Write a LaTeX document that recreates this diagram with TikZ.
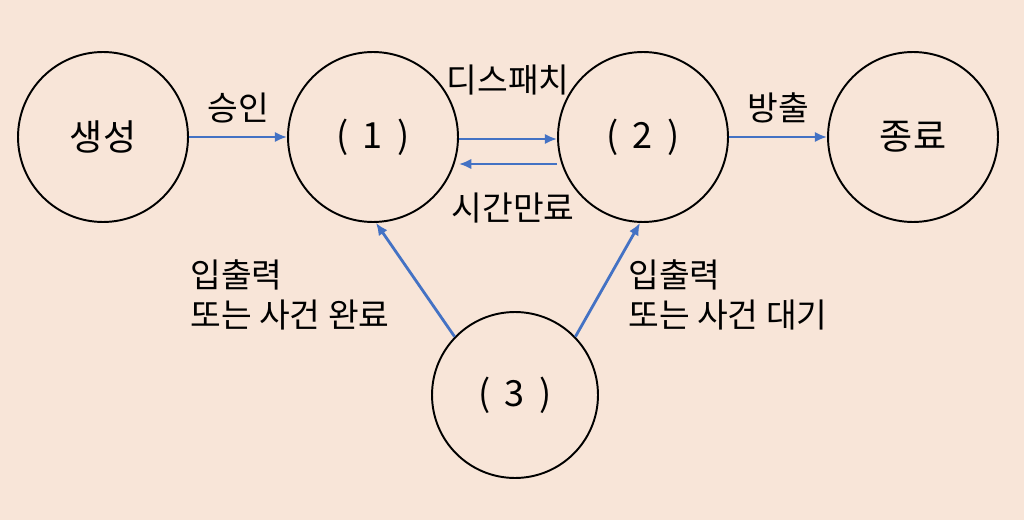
\documentclass[tikz,border=0pt]{standalone}
\usepackage{fontspec}
\usetikzlibrary{arrows.meta}
\setmainfont{Noto Sans CJK KR}
\definecolor{bgpeach}{RGB}{248,229,216}
\definecolor{arrowblue}{RGB}{68,114,196}
\begin{document}
\begin{tikzpicture}[x=0.02cm,y=-0.02cm,
  state/.style={draw, circle, line width=1.1pt, minimum size=3.4cm, inner sep=0pt, font=\fontsize{20.5}{24}\selectfont},
  trans/.style={-{Latex[length=7pt,width=6pt]}, draw=arrowblue, line width=1.6pt},
  lab/.style={font=\fontsize{19}{22.7}\selectfont, align=left, inner sep=0pt}]
\fill[bgpeach] (0,0) rectangle (1024,520);
\useasboundingbox (0,0) rectangle (1024,520);
\node[state] (create) at (103,137) {생성};
\node[state] (ready) at (373,137) {(\hspace{0.4em}1\hspace{0.4em})};
\node[state] (running) at (643,137) {(\hspace{0.4em}2\hspace{0.4em})};
\node[state] (done) at (913,137) {종료};
\node[state, minimum size=3.32cm] (waiting) at (515,395) {(\hspace{0.4em}3\hspace{0.4em})};

\node[lab] (admit) at (238,108) {승인};
\node[lab] (dispatch) at (508,80) {디스패치};
\node[lab] (timeout) at (513,208) {시간만료};
\node[lab] (release) at (778,108) {방출};
\node[lab, anchor=west] (wakeup) at (190,295) {입출력\\또는 사건 완료};
\node[lab, anchor=west] (wait) at (628,295) {입출력\\또는 사건 대기};

\draw[trans] (create) -- (ready);
\draw[trans] ([yshift=-0.04cm]ready.east) -- ([yshift=-0.04cm]running.west);
\draw[trans] ([yshift=-0.54cm]running.west) -- ([yshift=-0.54cm]ready.east);
\draw[trans] (running) -- (done);
\draw[trans] (waiting.136) -- (ready.-88);
\draw[trans] (waiting.44) -- (running.-92);
\end{tikzpicture}
\end{document}
